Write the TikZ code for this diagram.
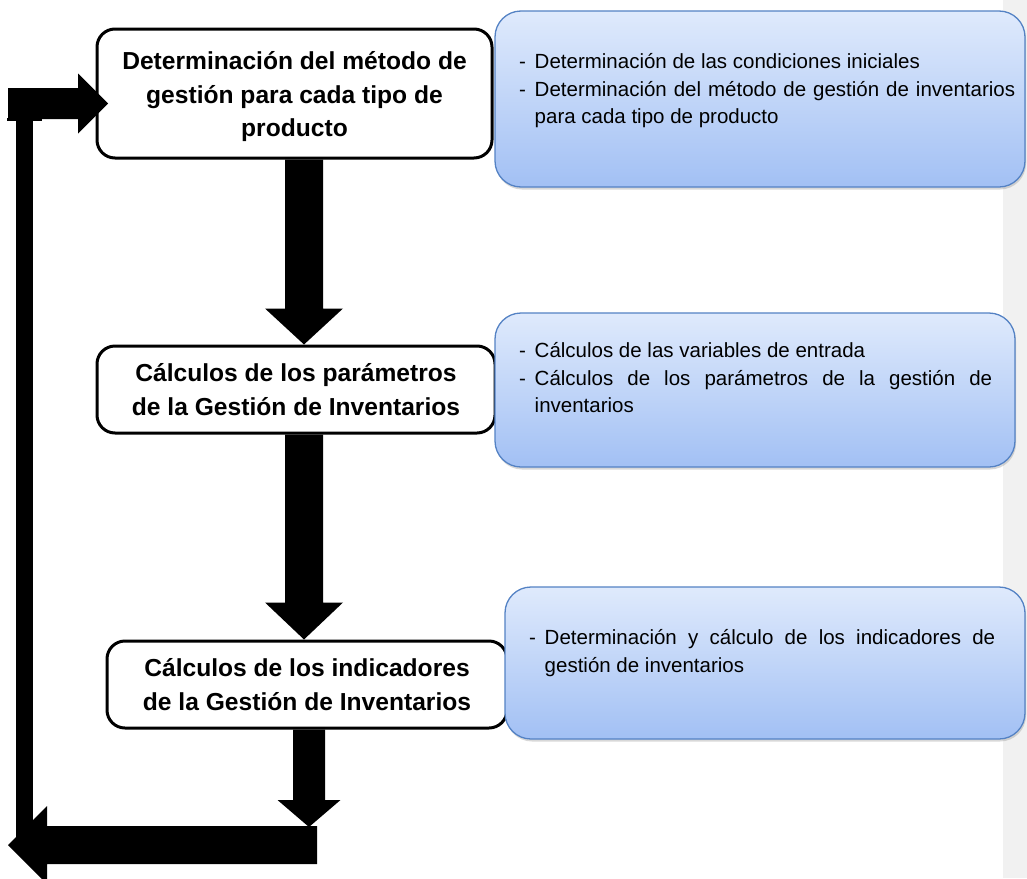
\documentclass[tikz,border=0pt]{standalone}
\usepackage{fontspec}
\setmainfont{Liberation Sans}
\usetikzlibrary{calc,shadows}
\definecolor{stripgray}{RGB}{241,241,241}
\definecolor{bluetop}{RGB}{223,234,252}
\definecolor{bluebot}{RGB}{162,192,244}
\definecolor{blueedge}{RGB}{84,130,196}
\newcommand{\dashitem}[1]{\noindent\hangindent=15.5pt\hangafter=1\makebox[15.5pt][l]{-}#1\par}
\newcommand{\blkv}[5]{\fill[blk] let \p1=(#1), \p2=(#2) in
 ({\x1-#3pt},\y1) -- ({\x1+#3pt},\y1) -- ({\x1+#3pt},{\y2+#5pt}) -- ({\x1+#4pt},{\y2+#5pt}) -- (\x1,\y2) -- ({\x1-#4pt},{\y2+#5pt}) -- ({\x1-#3pt},{\y2+#5pt}) -- cycle;}
\newcommand{\blkh}[5]{\fill[blk] let \p1=(#1), \p2=(#2) in
 (\x1,{\y1-#3pt}) -- (\x1,{\y1+#3pt}) -- ({\x2+#5pt},{\y1+#3pt}) -- ({\x2+#5pt},{\y1+#4pt}) -- (\x2,\y1) -- ({\x2+#5pt},{\y1-#4pt}) -- ({\x2+#5pt},{\y1-#3pt}) -- cycle;}
\tikzset{
 whitebox/.style={draw=black, line width=3pt, fill=white, rounded corners=18pt, inner sep=0pt},
 boldtext/.style={inner sep=0pt, align=center, font={\fontsize{24.6}{33.5}\selectfont\bfseries}},
 bluebox/.style={draw=blueedge, line width=1.3pt, top color=bluetop, bottom color=bluebot, rounded corners=26pt, inner sep=0pt, drop shadow={shadow xshift=1pt, shadow yshift=-2.5pt, opacity=0.3}},
 bluetext/.style={anchor=base west, inner sep=0pt, align=justify, font={\fontsize{20.5}{27.5}\selectfont}},
 blk/.style={fill=black}
}
\begin{document}
\begin{tikzpicture}[x=1pt,y=-1pt]
\useasboundingbox (0,0) rectangle (1027,878);
\fill[white] (0,0) rectangle (1027,878);
\fill[stripgray] (1003,0) rectangle (1027,878);

% white process boxes
\node[whitebox, minimum width=395pt, minimum height=129pt] (b1) at (294.5,93.5) {};
\node[whitebox, minimum width=398pt, minimum height=87pt] (b2) at (296,389.5) {};
\node[whitebox, minimum width=400pt, minimum height=87pt] (b3) at (307,684.5) {};
\node[boldtext] (l1) at ([yshift=-3.5pt]b1.center) {Determinación del método de\\gestión para cada tipo de\\producto};
\node[boldtext] (l2) at ([yshift=0pt]b2.center) {Cálculos de los parámetros\\de la Gestión de Inventarios};
\node[boldtext] (l3) at ([yshift=0pt]b3.center) {Cálculos de los indicadores\\de la Gestión de Inventarios};

% blue description boxes
\node[bluebox, minimum width=530pt, minimum height=176pt] (p1) at (760,99) {};
\node[bluebox, minimum width=520pt, minimum height=154pt] (p2) at (755,390) {};
\node[bluebox, minimum width=520pt, minimum height=152pt] (p3) at (765,663) {};

\node[bluetext, text width=496pt] (t1) at (519,68.5) {\dashitem{Determinación de las condiciones iniciales}\dashitem{Determinación del método de gestión de inventarios\linebreak para cada tipo de producto}};
\node[bluetext, text width=473pt] (t2) at (519,357.5) {\dashitem{Cálculos de las variables de entrada}\dashitem{Cálculos de los parámetros de la gestión de\linebreak inventarios}};
\node[bluetext, text width=466pt] (t3) at (529,644.5) {\dashitem{Determinación y cálculo de los indicadores de\linebreak gestión de inventarios}};

% block arrows
\coordinate (a1s) at ([xshift=9.5pt]b1.south);
\coordinate (a1e) at ([xshift=8pt]b2.north);
\coordinate (a2s) at ([xshift=8pt]b2.south);
\coordinate (a2e) at ([xshift=-3pt]b3.north);
\coordinate (a3s) at ([xshift=2pt]b3.south);
\coordinate (a3e) at (309,827);
\coordinate (a4s) at (317,845);
\coordinate (a4e) at (8,845);
\coordinate (a5s) at (8,103.5);
\coordinate (a5e) at (108,103.5);

\blkv{a1s}{a1e}{19}{39}{36}
\blkv{a2s}{a2e}{19}{39}{37}
\blkv{a3s}{a3e}{16}{31.5}{27}
\blkh{a4s}{a4e}{19}{39}{39}
\blkh{a5s}{a5e}{15.5}{30}{-30}
\fill[blk] (16,119) rectangle (33,845);
\fill[blk] (7,118) rectangle (42,121);
\end{tikzpicture}
\end{document}
